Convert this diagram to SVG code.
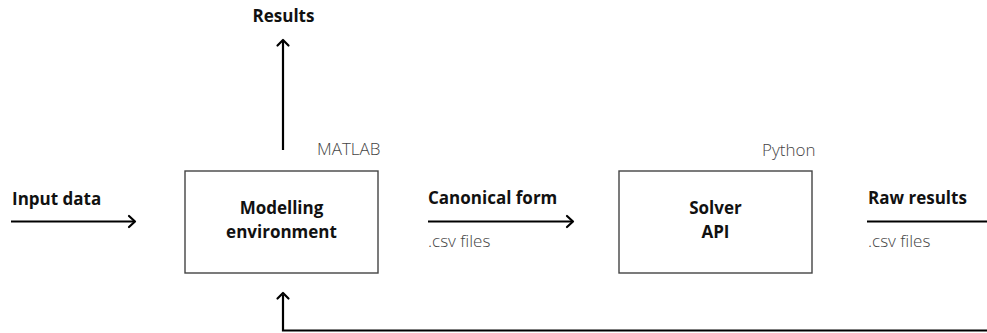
<svg xmlns="http://www.w3.org/2000/svg" width="987" height="333" viewBox="0 0 987 333">
  <defs>
    <style>
      .bold { font-family: "Open Sans", "Liberation Sans", sans-serif; font-weight: 700; font-size: 17px; fill: #111; }
      .light { font-family: "Open Sans", "Liberation Sans", sans-serif; font-weight: 300; font-size: 17px; fill: #444; }
      .box { fill: #fff; stroke: #444; stroke-width: 1.4; }
      .wire { fill: none; stroke: #000; stroke-width: 2.2; }
      .head { fill: none; stroke: #000; stroke-width: 2.2; stroke-linecap: round; stroke-linejoin: round; }
    </style>
  </defs>
  <rect width="987" height="333" fill="#fff"/>

  <g id="connectors">
    <!-- Input data -->
    <line class="wire" x1="11" y1="221.5" x2="134" y2="221.5"/>
    <polyline class="head" points="129,216 135,221.5 129,227"/>
    <!-- Results -->
    <line class="wire" x1="283" y1="150" x2="283" y2="41"/>
    <polyline class="head" points="277.5,45.5 283,40 288.5,45.5"/>
    <!-- Canonical form -->
    <line class="wire" x1="428" y1="221.5" x2="572" y2="221.5"/>
    <polyline class="head" points="567,216 573,221.5 567,227"/>
    <!-- Raw results -->
    <line class="wire" x1="867" y1="221.5" x2="987" y2="221.5"/>
    <!-- Feedback loop -->
    <polyline class="wire" points="987,330.5 283,330.5 283,295"/>
    <polyline class="head" points="277.5,298.5 283,293 288.5,298.5"/>
  </g>

  <g id="label-input">
    <text class="bold" x="12" y="205">Input data</text>
  </g>
  <g id="label-results">
    <text class="bold" x="283.5" y="22" text-anchor="middle">Results</text>
  </g>

  <g id="modelling">
    <rect class="box" x="185" y="171" width="193" height="102"/>
    <text class="bold" x="281.5" y="214" text-anchor="middle">Modelling</text>
    <text class="bold" x="281.5" y="238" text-anchor="middle">environment</text>
    <text class="light" x="317" y="155">MATLAB</text>
  </g>

  <g id="label-canonical">
    <text class="bold" x="428" y="204">Canonical form</text>
    <text class="light" x="428" y="247">.csv files</text>
  </g>

  <g id="solver">
    <rect class="box" x="619" y="171" width="193" height="102"/>
    <text class="bold" x="715.5" y="214" text-anchor="middle">Solver</text>
    <text class="bold" x="715.5" y="238" text-anchor="middle">API</text>
    <text class="light" x="762" y="156">Python</text>
  </g>

  <g id="label-raw">
    <text class="bold" x="868" y="204">Raw results</text>
    <text class="light" x="868" y="247">.csv files</text>
  </g>
</svg>
